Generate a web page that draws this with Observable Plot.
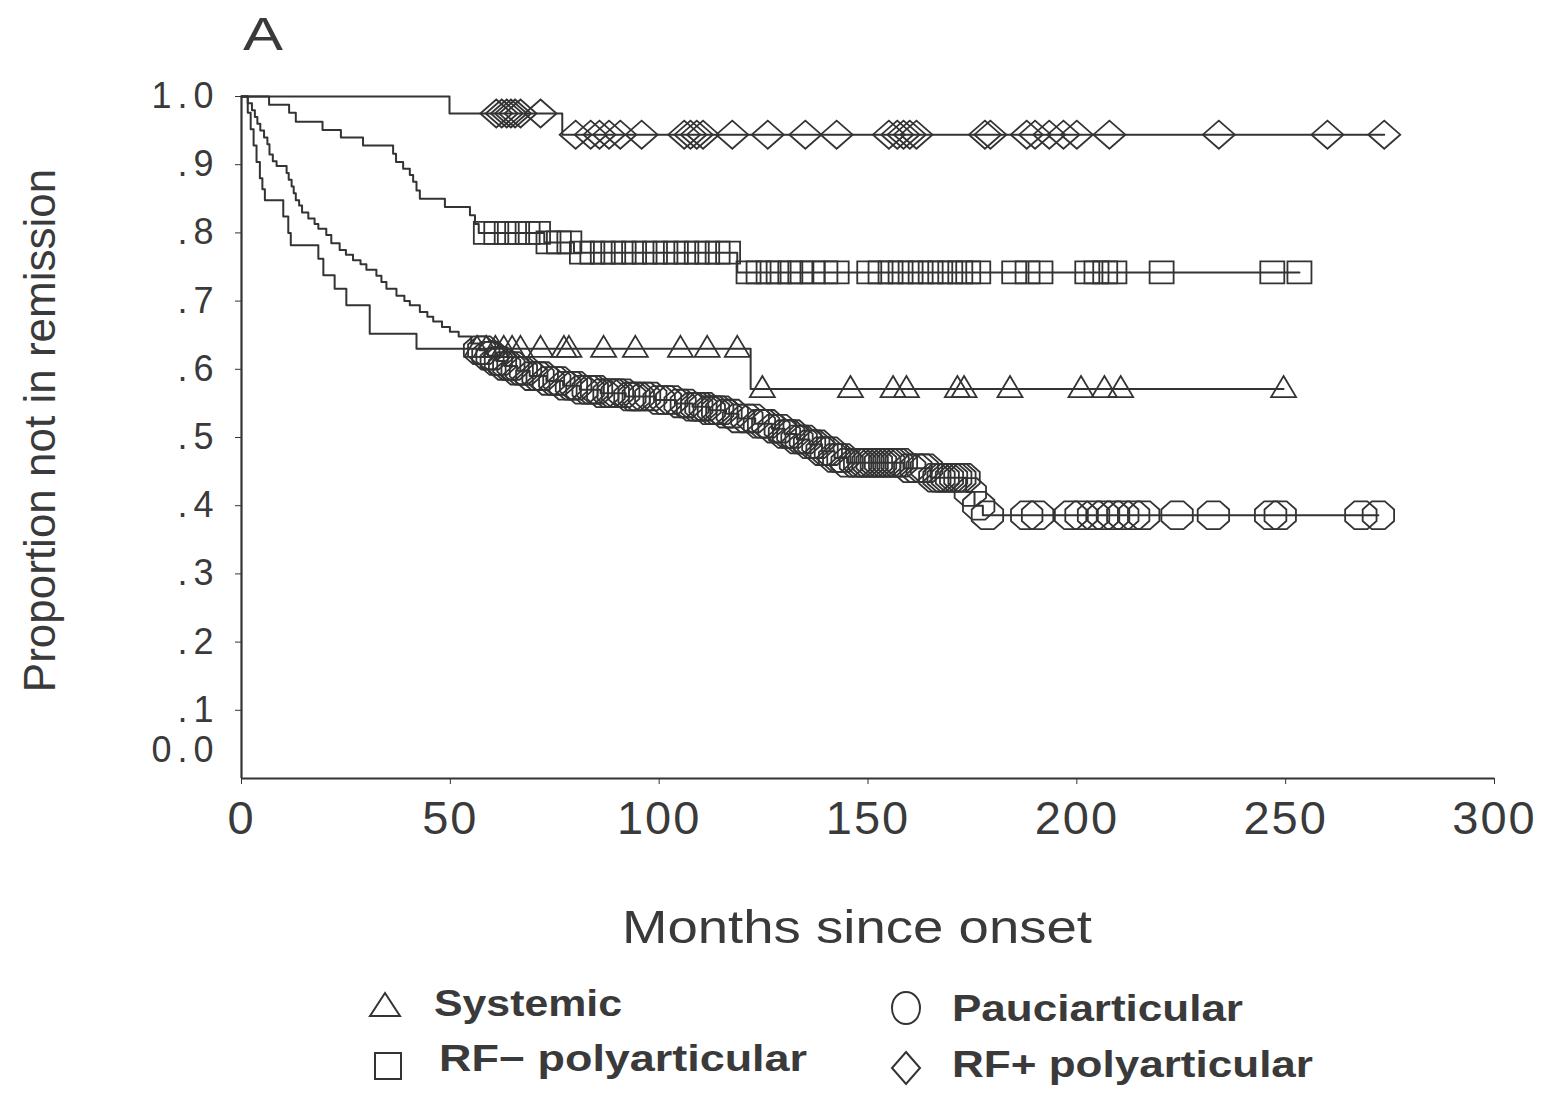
<!DOCTYPE html>
<html>
<head>
<meta charset="utf-8">
<script src="https://cdn.jsdelivr.net/npm/d3@7"></script>
<script src="https://cdn.jsdelivr.net/npm/@observablehq/plot@0.6"></script>
<style>
  body { margin: 0; background: #fff; }
  #wrap { position: relative; width: 1555px; height: 1094px; overflow: hidden; background: #fff; }
  #chart { position: absolute; left: 0; top: 0; }
  #overlay { position: absolute; left: 0; top: 0; }
  g[aria-label="y-axis tick label"] text { letter-spacing: 6px; }
  g[aria-label="x-axis tick label"] text { letter-spacing: 2px; }
</style>
</head>
<body>
<div id="wrap">
  <div id="chart"></div>
  <svg id="overlay" width="1555" height="1094"></svg>
</div>
<script>
// ---------------- DATA ----------------
// Kaplan–Meier steps: [months, proportion not in remission after the step]
const systemicEvents = [
  [1.5, .976], [2.2, .952], [2.9, .928], [3.6, .904], [4.4, .88], [5.0, .864], [5.6, .848],
  [10.0, .824], [11.2, .80], [11.8, .782], [18.4, .762], [19.6, .738], [22.3, .718],
  [25.1, .694], [30.7, .652], [41.9, .63], [121.9, .571]
];
const systemicCensored = [56.4, 58.6, 60.8, 62.8, 64.8, 66.8, 71.6, 77.2, 78.4, 86.7, 94.3,
  105.1, 111.5, 118.7, 124.7, 145.8, 156.0, 159.2, 171.4, 173.0, 184.0, 201.0, 206.6, 210.5, 249.5];

const rfNegEvents = [
  [6.6, .988], [11.4, .976], [13.0, .963], [19.4, .951], [23.8, .94], [29.1, .928],
  [36.3, .916], [37.0, .904], [38.7, .894], [40.3, .885], [41.1, .875], [41.9, .862],
  [42.7, .85], [48.7, .838], [54.7, .826], [55.9, .813], [56.8, .80], [72.5, .786],
  [79.6, .771], [118.7, .742]
];
const rfNegCensored = [58.5, 61, 63.5, 66, 68.5, 71, 73.5, 76, 78.5,
  81.5, 84, 86.5, 89, 91.5, 94, 96.5, 99, 101.5, 104, 106.5, 109, 111.5, 114, 116.5,
  121.4, 123.8, 126.2, 128.6, 131.4, 133.8, 136.7, 139.8, 142.5,
  150.3, 153, 155.4, 157.8, 160.2, 162.6, 165, 167.3, 169.7, 172.1, 174, 176.4,
  185, 188.2, 191.3, 202.5, 204.7, 206.8, 209, 220.3, 246.8, 253.3];

const pauciEvents = [
  [1.5, .99], [2.5, .98], [3.2, .97], [3.8, .96], [4.5, .95], [5.4, .94], [6.2, .93],
  [6.7, .915], [7.5, .905], [8.4, .898], [10.8, .888], [11.3, .878], [12.0, .868],
  [12.5, .858], [13.0, .848], [13.8, .84], [14.5, .83], [16.0, .821], [17.5, .813],
  [18.4, .806], [20.3, .797], [21.5, .785], [23.5, .775], [25.0, .768], [26.7, .76],
  [28.5, .754], [29.9, .746], [32.3, .737], [33.5, .728], [34.7, .718], [37.1, .708],
  [39.0, .70], [40.3, .694], [42.7, .684], [44.5, .677], [45.9, .67], [48.0, .662],
  [49.9, .655], [52.0, .648], [55.0, .638], [57.0, .628], [59.0, .62], [61.0, .612],
  [63.0, .605], [66.0, .598], [69.0, .59], [73.0, .583], [77.0, .576], [81.0, .57],
  [86.0, .565], [92.0, .56], [99.0, .555], [104.0, .55], [108.0, .545], [112.0, .54],
  [116.0, .535], [119.0, .528], [123.0, .52], [127.0, .513], [130.0, .505], [133.0, .497],
  [136.0, .49], [139.0, .48], [142.0, .47], [145.0, .463], [158.5, .455], [165.0, .441],
  [173.5, .42], [175.5, .40], [177.5, .386]
];
const pauciCensored = [57, 58, 59, 60, 61, 62, 63, 64, 65, 66, 67, 68, 69.5, 71, 72, 73.5, 75, 76,
  77.5, 79, 80, 81.5, 83, 84, 85, 86.5, 88, 89, 90, 91.5, 93, 94, 95, 96.5, 98, 100, 101.5,
  103, 105, 106.5, 108, 109, 110, 111, 112, 113, 114, 115, 116, 117.5, 119, 121, 122.5, 124,
  125, 126, 127.5, 129, 130, 131, 132, 133, 134, 135, 136, 137, 138, 139, 140, 141, 142, 143,
  144, 145, 147, 148, 149, 150, 151, 152, 153, 154, 155, 156, 157, 158, 160, 161.5, 163, 164,
  166, 167, 168, 169, 170, 171, 172, 173, 174.5, 176.5, 178.6, 188, 190.6, 198.5, 201, 204,
  206.4, 208.8, 211, 213.6, 216, 224, 232.7, 246.4, 248.7, 268, 272.2];

const rfPosEvents = [[49.8, .975], [76.8, .944]];
const rfPosCensored = [61, 62.3, 63.5, 64.5, 65.5, 66.8, 71.6, 80, 83.6, 85.7, 88, 90.7, 95.8,
  106, 107.5, 109, 110.5, 117.5, 126, 135, 142.5, 155, 157, 158.5, 160, 161.6, 178, 179.3,
  188, 190, 193.4, 196.8, 200, 207.8, 234, 260, 273.6];

const groupNames = ["Systemic", "RF\u2212 polyarticular", "Pauciarticular", "RF+ polyarticular"];
const xTicks = [0, 50, 100, 150, 200, 250, 300];
const yTicks = [0, .1, .2, .3, .4, .5, .6, .7, .8, .9, 1.0];
const yTickLabels = ["0.0", ".1", ".2", ".3", ".4", ".5", ".6", ".7", ".8", ".9", "1.0"];
const titleText = "A";
const xLabel = "Months since onset";
const yLabel = "Proportion not in remission";

// ---------------- SYMBOLS ----------------
const INK = "#333";
const triSym = { draw(c) { c.moveTo(0, -13); c.lineTo(12.5, 8); c.lineTo(-12.5, 8); c.closePath(); } };
const sqSym = { draw(c) { c.moveTo(-12, -11); c.lineTo(12, -11); c.lineTo(12, 11); c.lineTo(-12, 11); c.closePath(); } };
const octSym = { draw(c) {
  const rx = 17, ry = 15;
  for (let k = 0; k < 8; k++) {
    const a = Math.PI / 8 + k * Math.PI / 4;
    const px = rx * Math.cos(a), py = ry * Math.sin(a);
    if (k === 0) c.moveTo(px, py); else c.lineTo(px, py);
  }
  c.closePath();
} };
const diaSym = { draw(c) { c.moveTo(0, -14); c.lineTo(16, 0); c.lineTo(0, 14); c.lineTo(-16, 0); c.closePath(); } };

const groups = [
  { name: groupNames[0], events: systemicEvents, censored: systemicCensored, symbol: triSym },
  { name: groupNames[1], events: rfNegEvents, censored: rfNegCensored, symbol: sqSym },
  { name: groupNames[2], events: pauciEvents, censored: pauciCensored, symbol: octSym },
  { name: groupNames[3], events: rfPosEvents, censored: rfPosCensored, symbol: diaSym }
];

const survAt = (ev, t) => { let s = 1; for (const [m, p] of ev) if (m <= t) s = p; return s; };

const lineRows = [];
const censorRows = [];
for (const g of groups) {
  const end = d3.max(g.censored);
  lineRows.push({ group: g.name, m: 0, p: 1 });
  for (const [m, p] of g.events) lineRows.push({ group: g.name, m, p });
  lineRows.push({ group: g.name, m: end, p: survAt(g.events, end) });
  for (const m of g.censored) censorRows.push({ group: g.name, m, p: survAt(g.events, m) });
}

const fmtY = d => yTickLabels[yTicks.findIndex(t => Math.abs(t - d) < 1e-9)];

const H = 860;
const chart = Plot.plot({
  width: 1555,
  height: H,
  marginLeft: 241,
  marginRight: 61,
  marginTop: 96,
  marginBottom: H - 778,
  x: { domain: [0, 300] },
  y: { domain: [0, 1] },
  style: { fontFamily: "'Liberation Sans', Arial, sans-serif", color: "#3a3a3a", background: "transparent", overflow: "visible" },
  marks: [
    Plot.ruleX([0], { y1: 0, y2: 1, stroke: INK, strokeWidth: 2.2 }),
    Plot.ruleY([0], { x1: 0, x2: 300, stroke: INK, strokeWidth: 2.2 }),
    Plot.axisX({ ticks: xTicks, tickSize: 6, tickPadding: 16, fontSize: 47, label: null, tickFormat: d => String(d), stroke: INK }),
    Plot.axisY({ ticks: yTicks.filter(d => d > 0), tickSize: 6, tickPadding: 16, fontSize: 36, label: null, tickFormat: fmtY, stroke: INK }),
    Plot.axisY({ ticks: [0], tickSize: 0, tickPadding: 22, fontSize: 36, label: null, tickFormat: fmtY, dy: -28 }),
    Plot.text([yLabel], { frameAnchor: "left", textAnchor: "middle", rotate: -90, dx: -201, dy: -7, fontSize: 44, fill: "#3a3a3a", ariaLabel: "y-label" }),
    Plot.line(lineRows, { x: "m", y: "p", z: "group", curve: "step-after", stroke: INK, strokeWidth: 2 }),
    ...groups.map(g => Plot.dot(censorRows.filter(d => d.group === g.name), {
      x: "m", y: "p", symbol: g.symbol, r: 10, stroke: INK, strokeWidth: 1.8, fill: "none"
    }))
  ]
});
document.getElementById("chart").appendChild(chart);
// stretch the rotated y label to the reference's length
d3.select(chart).selectAll('g[aria-label="y-label"] text')
  .attr("textLength", 530).attr("lengthAdjust", "spacingAndGlyphs");

// ---------------- TITLE, X LABEL, LEGEND (outside the SVG plot) ----------------
const ov = d3.select("#overlay");
const TXT = "#3a3a3a";
ov.append("text").attr("x", 243).attr("y", 50).attr("font-size", 46)
  .attr("font-family", "'Liberation Sans', Arial, sans-serif").attr("fill", TXT)
  .attr("textLength", 40).attr("lengthAdjust", "spacingAndGlyphs").text(titleText);
ov.append("text").attr("x", 622).attr("y", 943).attr("font-size", 46)
  .attr("font-family", "'Liberation Sans', Arial, sans-serif").attr("fill", TXT)
  .attr("textLength", 470).attr("lengthAdjust", "spacingAndGlyphs").text(xLabel);

const legendItems = [
  { name: groupNames[0], sym: "tri", sx: 385, sy: 1006, tx: 434, ty: 1016, tl: 188 },
  { name: groupNames[1], sym: "sq", sx: 388, sy: 1066, tx: 439, ty: 1071, tl: 368 },
  { name: groupNames[2], sym: "oct", sx: 906, sy: 1008, tx: 952, ty: 1021, tl: 291 },
  { name: groupNames[3], sym: "dia", sx: 906, sy: 1068, tx: 952, ty: 1077, tl: 361 }
];
const legendPaths = {
  tri: "M0,-13L15,10L-15,10Z",
  sq: "M-13,-13L13,-13L13,13L-13,13Z",
  oct: "M0,-16C8,-16 14,-9 14,0C14,9 8,16 0,16C-8,16 -14,9 -14,0C-14,-9 -8,-16 0,-16Z",
  dia: "M0,-16L14,0L0,16L-14,0Z"
};
for (const it of legendItems) {
  ov.append("path").attr("d", legendPaths[it.sym]).attr("transform", `translate(${it.sx},${it.sy})`)
    .attr("fill", "none").attr("stroke", INK).attr("stroke-width", 2);
  ov.append("text").attr("x", it.tx).attr("y", it.ty).attr("font-size", 37).attr("font-weight", "bold")
    .attr("font-family", "'Liberation Sans', Arial, sans-serif").attr("fill", TXT)
    .attr("textLength", it.tl).attr("lengthAdjust", "spacingAndGlyphs").text(it.name);
}
</script>
</body>
</html>
